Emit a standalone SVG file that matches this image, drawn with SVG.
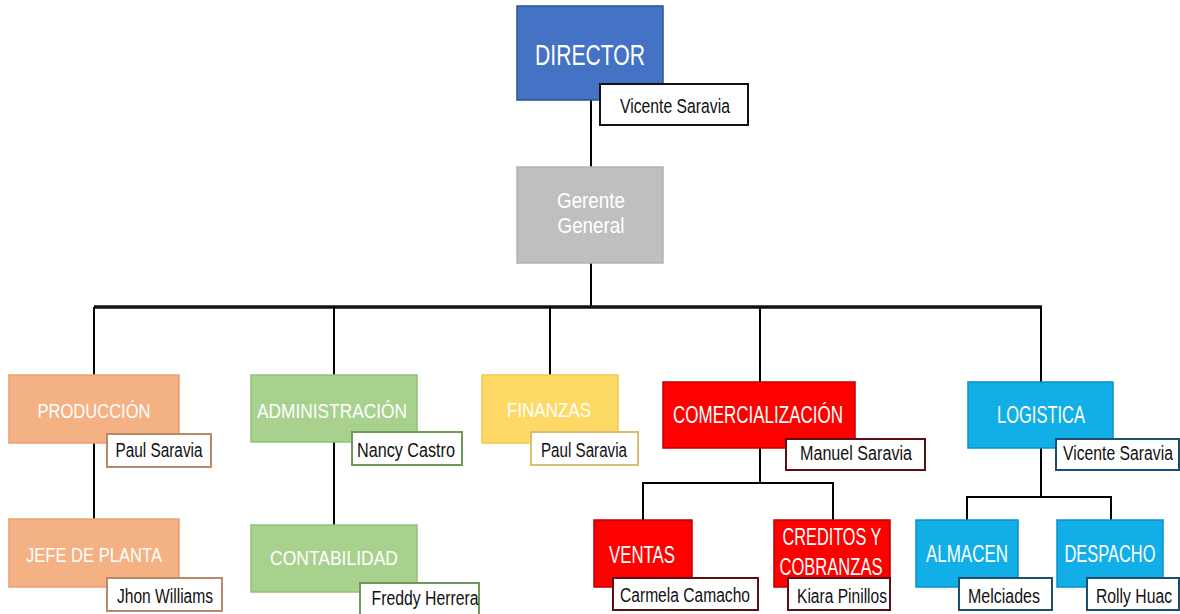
<svg xmlns="http://www.w3.org/2000/svg" width="1180" height="614" viewBox="0 0 1180 614">
  <style>
    .box { stroke-width: 1.5; }
    .tag { fill: #ffffff; stroke-width: 2; }
    .title { font-family: "Liberation Sans", Arial, sans-serif; fill: #ffffff; text-anchor: middle; }
    .name { font-family: "Liberation Sans", Arial, sans-serif; fill: #111111; font-size: 20px; text-anchor: middle; }
    .wire { stroke: #000000; stroke-width: 2; fill: none; }
    .bus { stroke: #111111; stroke-width: 3.5; fill: none; }
    .blue { fill: #4472C4; stroke: #2F528F; }
    .grey { fill: #BFBFBF; stroke: #B3B3B3; }
    .orange { fill: #F4B183; stroke: #E6A274; }
    .green { fill: #A9D18E; stroke: #93C079; }
    .yellow { fill: #FFD966; stroke: #F1C94E; }
    .red { fill: #FF0000; stroke: #C00000; }
    .cyan { fill: #12AEE8; stroke: #0A90C8; }
  </style>

  <!-- connectors -->
  <g id="connectors">
    <path class="wire" d="M591,100 V167"/>
    <path class="wire" d="M591,263 V307"/>
    <path class="bus" d="M94,307 H1042"/>
    <path class="wire" d="M94,307 V375 M334,307 V375 M550,307 V375 M760,307 V382 M1041,307 V382"/>
    <path class="wire" d="M94,443 V519"/>
    <path class="wire" d="M334,442 V525"/>
    <path class="wire" d="M760,448 V483 M643,483 H833 M643,482 V520 M833,482 V520"/>
    <path class="wire" d="M1041,448 V497 M967,497 H1111 M967,496 V520 M1111,496 V520"/>
  </g>

  <!-- top level -->
  <g id="director">
    <rect class="box blue" x="517" y="6" width="146" height="94" stroke-width="2.5"/>
    <text class="title" x="590" y="65" font-size="30" textLength="110" lengthAdjust="spacingAndGlyphs">DIRECTOR</text>
    <rect class="tag" x="600" y="84" width="148" height="41" stroke="#111111" stroke-width="2.5"/>
    <text class="name" x="675" y="113" textLength="110" lengthAdjust="spacingAndGlyphs">Vicente Saravia</text>
  </g>

  <g id="gerente">
    <rect class="box grey" x="517" y="167" width="146" height="96"/>
    <text class="title" x="591" y="208" font-size="22" textLength="68" lengthAdjust="spacingAndGlyphs">Gerente</text>
    <text class="title" x="591" y="233" font-size="22" textLength="67" lengthAdjust="spacingAndGlyphs">General</text>
  </g>

  <!-- production branch -->
  <g id="produccion">
    <rect class="box orange" x="9" y="375" width="170" height="68"/>
    <text class="title" x="94" y="418" font-size="21" textLength="113" lengthAdjust="spacingAndGlyphs">PRODUCCIÓN</text>
    <rect class="tag" x="107" y="434" width="104" height="33" stroke="#B98A6A"/>
    <text class="name" x="159" y="457" textLength="87" lengthAdjust="spacingAndGlyphs">Paul Saravia</text>
  </g>

  <g id="jefe-planta">
    <rect class="box orange" x="9" y="519" width="170" height="68"/>
    <text class="title" x="94" y="562" font-size="21" textLength="136" lengthAdjust="spacingAndGlyphs">JEFE DE PLANTA</text>
    <rect class="tag" x="107" y="578" width="115" height="33" stroke="#B98A6A"/>
    <text class="name" x="165" y="603" textLength="96" lengthAdjust="spacingAndGlyphs">Jhon Williams</text>
  </g>

  <!-- administration branch -->
  <g id="administracion">
    <rect class="box green" x="251" y="375" width="166" height="67"/>
    <text class="title" x="332" y="418" font-size="21" textLength="150" lengthAdjust="spacingAndGlyphs">ADMINISTRACIÓN</text>
    <rect class="tag" x="352" y="432" width="110" height="33" stroke="#6E9A58"/>
    <text class="name" x="406" y="457" textLength="98" lengthAdjust="spacingAndGlyphs">Nancy Castro</text>
  </g>

  <g id="contabilidad">
    <rect class="box green" x="251" y="525" width="166" height="67"/>
    <text class="title" x="334" y="565" font-size="21" textLength="128" lengthAdjust="spacingAndGlyphs">CONTABILIDAD</text>
    <rect class="tag" x="360" y="583" width="119" height="40" stroke="#6E9A58"/>
    <text class="name" x="425" y="605" textLength="107" lengthAdjust="spacingAndGlyphs">Freddy Herrera</text>
  </g>

  <!-- finance -->
  <g id="finanzas">
    <rect class="box yellow" x="482" y="375" width="136" height="68"/>
    <text class="title" x="549" y="417" font-size="20" textLength="84" lengthAdjust="spacingAndGlyphs" fill="#FFF6D8">FINANZAS</text>
    <rect class="tag" x="531" y="432" width="107" height="33" stroke="#D8C070"/>
    <text class="name" x="584" y="457" textLength="86" lengthAdjust="spacingAndGlyphs">Paul Saravia</text>
  </g>

  <!-- sales branch -->
  <g id="comercializacion">
    <rect class="box red" x="663" y="382" width="192" height="66"/>
    <text class="title" x="758" y="423" font-size="24" textLength="170" lengthAdjust="spacingAndGlyphs">COMERCIALIZACIÓN</text>
    <rect class="tag" x="786" y="439" width="139" height="31" stroke="#5A1015"/>
    <text class="name" x="856" y="460" textLength="112" lengthAdjust="spacingAndGlyphs">Manuel Saravia</text>
  </g>

  <g id="ventas">
    <rect class="box red" x="594" y="520" width="98" height="67"/>
    <text class="title" x="642" y="563" font-size="24" textLength="66" lengthAdjust="spacingAndGlyphs">VENTAS</text>
    <rect class="tag" x="613" y="578" width="145" height="32" stroke="#5A1015"/>
    <text class="name" x="685" y="602" textLength="130" lengthAdjust="spacingAndGlyphs">Carmela Camacho</text>
  </g>

  <g id="creditos">
    <rect class="box red" x="774" y="520" width="116" height="67"/>
    <text class="title" x="832" y="545" font-size="24" textLength="99" lengthAdjust="spacingAndGlyphs">CREDITOS Y</text>
    <text class="title" x="831" y="575" font-size="24" textLength="103" lengthAdjust="spacingAndGlyphs">COBRANZAS</text>
    <rect class="tag" x="788" y="578" width="102" height="32" stroke="#5A1015"/>
    <text class="name" x="842" y="603" textLength="90" lengthAdjust="spacingAndGlyphs">Kiara Pinillos</text>
  </g>

  <!-- logistics branch -->
  <g id="logistica">
    <rect class="box cyan" x="968" y="382" width="145" height="66"/>
    <text class="title" x="1041" y="423" font-size="24" textLength="88" lengthAdjust="spacingAndGlyphs">LOGISTICA</text>
    <rect class="tag" x="1056" y="439" width="123" height="31" stroke="#1A4F70"/>
    <text class="name" x="1118" y="460" textLength="110" lengthAdjust="spacingAndGlyphs">Vicente Saravia</text>
  </g>

  <g id="almacen">
    <rect class="box cyan" x="916" y="520" width="102" height="67"/>
    <text class="title" x="967" y="562" font-size="24" textLength="82" lengthAdjust="spacingAndGlyphs">ALMACEN</text>
    <rect class="tag" x="959" y="578" width="93" height="32" stroke="#1A4F70"/>
    <text class="name" x="1004" y="603" textLength="72" lengthAdjust="spacingAndGlyphs">Melciades</text>
  </g>

  <g id="despacho">
    <rect class="box cyan" x="1057" y="520" width="106" height="67"/>
    <text class="title" x="1110" y="562" font-size="24" textLength="91" lengthAdjust="spacingAndGlyphs">DESPACHO</text>
    <rect class="tag" x="1087" y="578" width="92" height="32" stroke="#1A4F70"/>
    <text class="name" x="1134" y="603" textLength="76" lengthAdjust="spacingAndGlyphs">Rolly Huac</text>
  </g>
</svg>
